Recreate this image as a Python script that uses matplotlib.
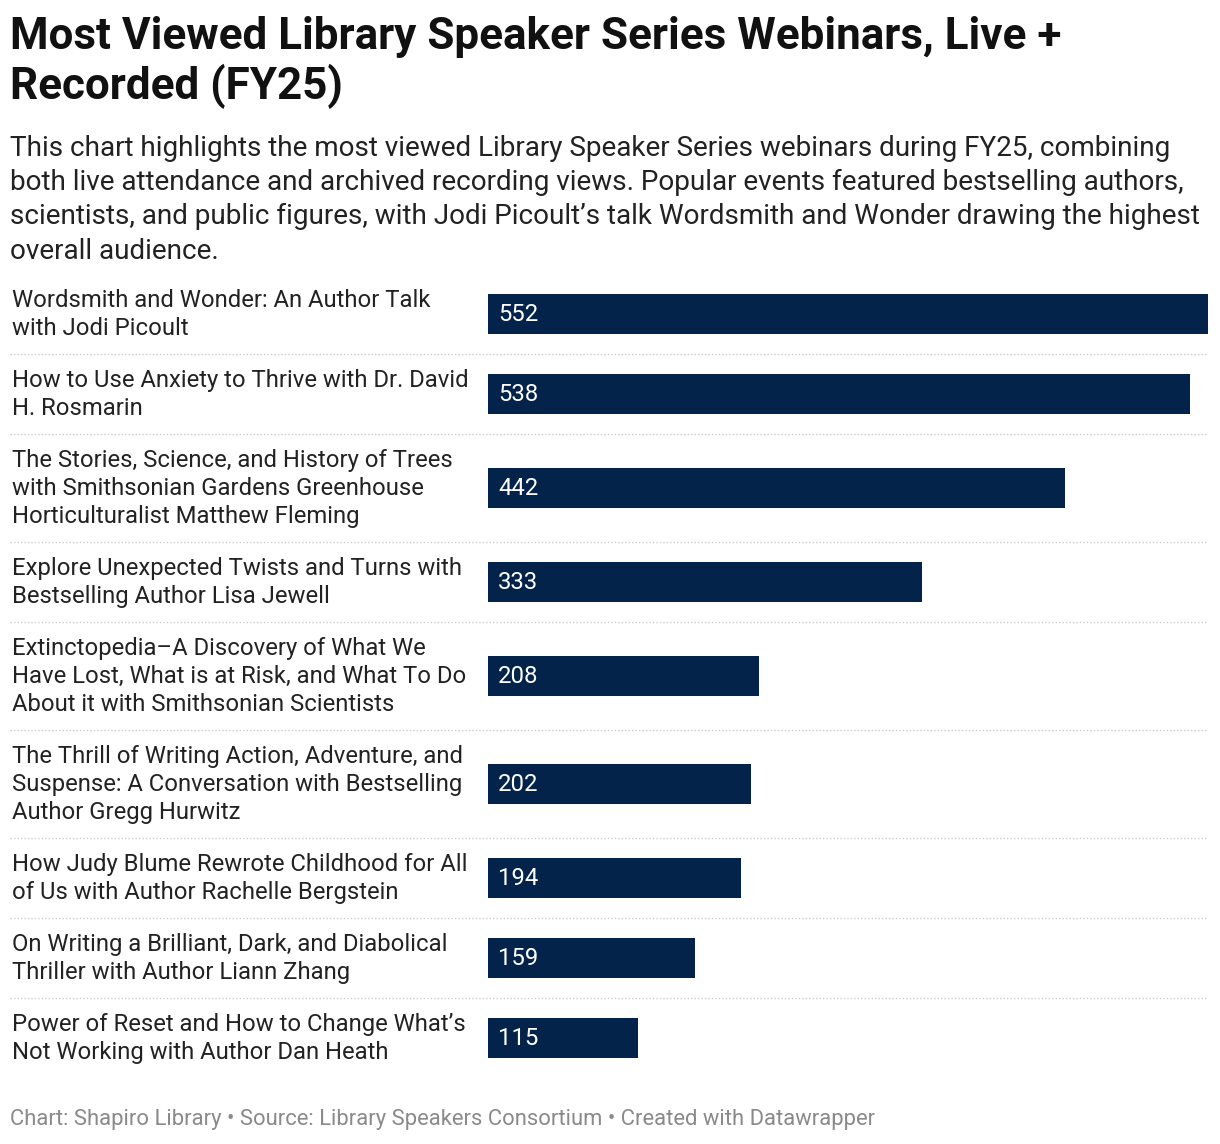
import matplotlib.pyplot as plt
import matplotlib.transforms as mtransforms
from matplotlib.lines import Line2D

# data
titles = [
    "Wordsmith and Wonder: An Author Talk\nwith Jodi Picoult",
    "How to Use Anxiety to Thrive with Dr. David\nH. Rosmarin",
    "The Stories, Science, and History of Trees\nwith Smithsonian Gardens Greenhouse\nHorticulturalist Matthew Fleming",
    "Explore Unexpected Twists and Turns with\nBestselling Author Lisa Jewell",
    "Extinctopedia\u2013A Discovery of What We\nHave Lost, What is at Risk, and What To Do\nAbout it with Smithsonian Scientists",
    "The Thrill of Writing Action, Adventure, and\nSuspense: A Conversation with Bestselling\nAuthor Gregg Hurwitz",
    "How Judy Blume Rewrote Childhood for All\nof Us with Author Rachelle Bergstein",
    "On Writing a Brilliant, Dark, and Diabolical\nThriller with Author Liann Zhang",
    "Power of Reset and How to Change What\u2019s\nNot Working with Author Dan Heath",
]
views = [552, 538, 442, 333, 208, 202, 194, 159, 115]

title = "Most Viewed Library Speaker Series Webinars, Live +\nRecorded (FY25)"
subtitle = ("This chart highlights the most viewed Library Speaker Series webinars during FY25, combining\n"
            "both live attendance and archived recording views. Popular events featured bestselling authors,\n"
            "scientists, and public figures, with Jodi Picoult\u2019s talk Wordsmith and Wonder drawing the highest\n"
            "overall audience.")
footer = "Chart: Shapiro Library \u2022 Source: Library Speakers Consortium \u2022 Created with Datawrapper"

W, H = 1220, 1144
plt.rcParams['font.family'] = ['Roboto', 'DejaVu Sans']
fig = plt.figure(figsize=(W / 100, H / 100), dpi=100)

def px(x, y):
    return x / W, 1 - y / H

# row layout in pixels, height depends on the number of label lines
top = 274
centers, bounds = [], [top]
for t in titles:
    n = t.count("\n") + 1
    h = n * 28 + 24
    centers.append(bounds[-1] + h / 2)
    bounds.append(bounds[-1] + h)

x0, x1 = 488, 1208
ax = fig.add_axes([x0 / W, 1 - bounds[-1] / H, (x1 - x0) / W, (bounds[-1] - top) / H])
ax.set_xlim(0, max(views))
ax.set_ylim(bounds[-1], top)
ax.axis('off')

navy = '#03234b'
ax.barh(centers, views, height=40, color=navy)
for c, v in zip(centers, views):
    ax.text(max(views) * 10 / (x1 - x0), c + 0.5, str(v), color='white', fontsize=17.2,
            va='center', ha='left')

trans = mtransforms.blended_transform_factory(fig.transFigure, ax.transData)
for c, t in zip(centers, titles):
    ax.text(12 / W, c + 0.5, t, transform=trans, fontsize=17.2, color='#222222',
            va='center', ha='left', linespacing=1.27)

for b in bounds[1:-1]:
    ax.add_line(Line2D([10 / W, 1208 / W], [b, b], transform=trans, color='#cccccc',
                       lw=1, ls=(0, (1, 1.5)), clip_on=False))

fig.text(*px(10, 16), title, fontsize=31.7, fontweight='bold', color='#111111',
         va='top', ha='left', linespacing=1.17)
fig.text(*px(10, 135), subtitle, fontsize=20.1, color='#222222',
         va='top', ha='left', linespacing=1.34)
fig.text(*px(10, 1119), footer, fontsize=15.8, color='#8a8a8a', va='center', ha='left')

fig.savefig('out.png', dpi=100)
